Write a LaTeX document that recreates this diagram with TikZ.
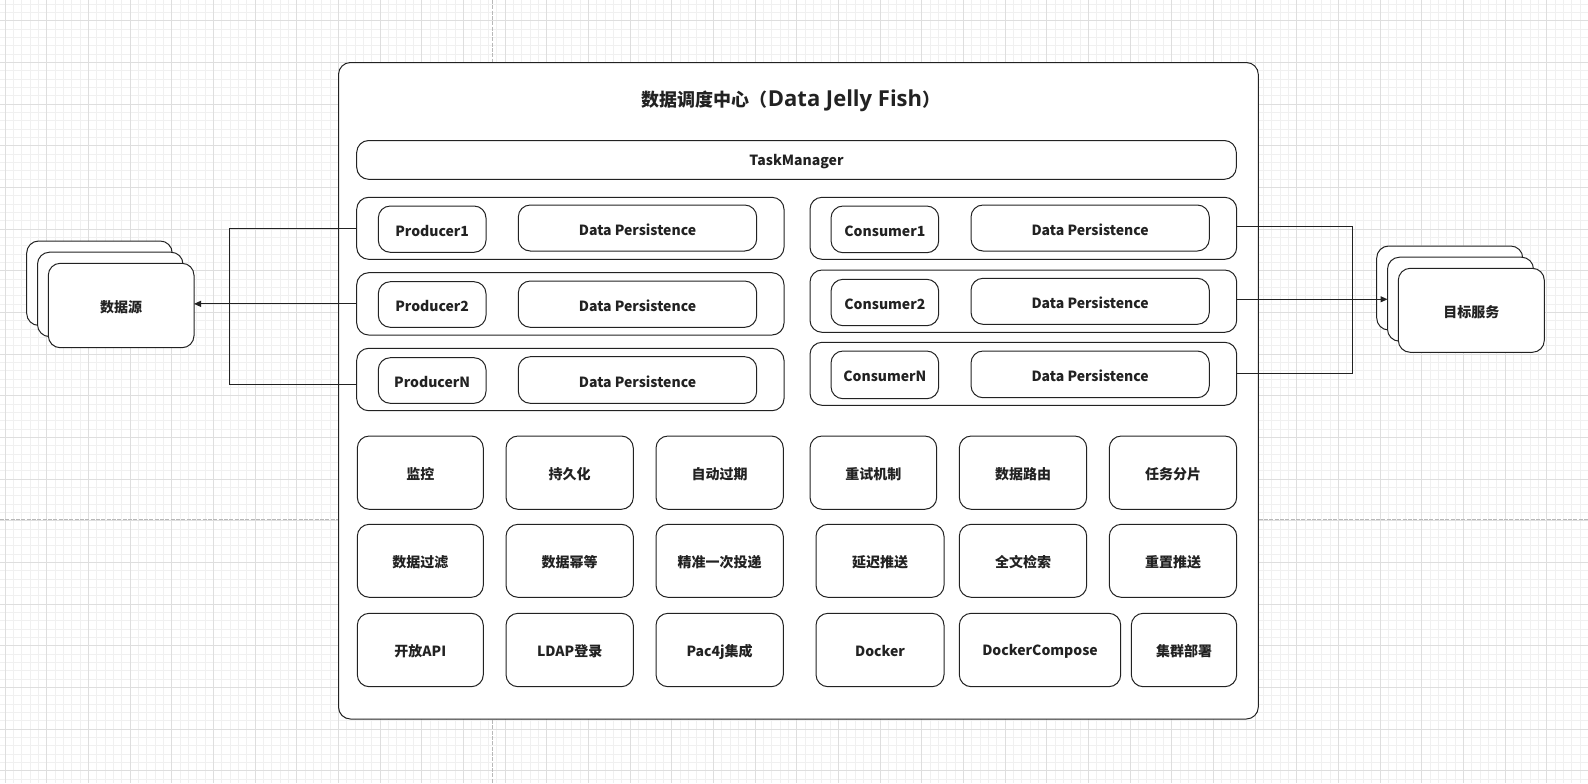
\documentclass[tikz,border=0pt]{standalone}
\usepackage{fontspec}
\setmainfont{Noto Sans CJK SC}
\newfontfamily\latfont{Open Sans}
\usetikzlibrary{arrows.meta}
\definecolor{minorg}{HTML}{F0F0F0}
\definecolor{majorg}{HTML}{DEDEDE}
\definecolor{pageg}{HTML}{B8B8B8}
\definecolor{ln}{HTML}{222222}
\newcommand\mkbox[7][]{\node[box,#1,minimum width={(#5-#3)*0.75pt},minimum height={(#6-#4)*0.75pt}] (#2) at ({(#3+#5)/2},{(#4+#6)/2}) {\raisebox{-1.1pt}[\height][\depth]{#7}};}
\begin{document}
\begin{tikzpicture}[x=0.75pt,y=-0.75pt,
  box/.style={draw=ln, line width=0.75pt, rounded corners=9pt, fill=white, inner sep=0pt, outer sep=0pt, text=ln, font=\bfseries\fontsize{10.5}{12}\selectfont},
  conn/.style={draw=ln, line width=0.75pt},
  arr/.style={conn, -{Triangle[length=5.25pt,width=4.5pt]}},
  minorline/.style={draw=minorg, line width=0.75pt},
  majorline/.style={draw=majorg, line width=0.75pt}]
\useasboundingbox (0,0) rectangle (1588,783);
\fill[white] (0,0) rectangle (1588,783);
% grid
\foreach \i in {0,...,190} \draw[minorline] ({5.2+\i*8.3333},0) -- ({5.2+\i*8.3333},783);
\foreach \i in {0,...,94} \draw[minorline] (0,{4.1+\i*8.3333}) -- (1588,{4.1+\i*8.3333});
\foreach \i in {0,...,38} \draw[majorline] ({5.2+\i*41.6667},0) -- ({5.2+\i*41.6667},783);
\foreach \i in {0,...,18} \draw[majorline] (0,{20.8+\i*41.6667}) -- (1588,{20.8+\i*41.6667});
\draw[pageg, line width=0.75pt, dash pattern=on 3pt off 1pt] (492.3,0) -- (492.3,783);
\draw[pageg, line width=0.75pt, dash pattern=on 3pt off 1pt] (0,519) -- (1588,519);

% main container
\mkbox{main}{338.5}{62.5}{1258.3}{719}{}
\node[text=ln, font=\bfseries\fontsize{13.5}{15}\selectfont] (title) at (791,101) {数据调度中心（{\latfont\bfseries\fontsize{16.5}{17}\selectfont Data Jelly Fish}）};
\mkbox{tm}{356.7}{140.5}{1236.3}{179.3}{TaskManager}

% producers
\mkbox{prow1}{356.7}{197.3}{784}{259.3}{}
\mkbox{prow2}{356.7}{272.7}{784}{335}{}
\mkbox{prow3}{356.7}{348.3}{784}{410.7}{}
\mkbox{p1}{378.3}{206}{486}{252.3}{Producer1}
\mkbox{p2}{378.3}{281.7}{486}{327.3}{Producer2}
\mkbox{p3}{378.3}{357.7}{486}{403.3}{ProducerN}
\mkbox{pd1}{518.3}{205}{756.7}{251}{Data Persistence}
\mkbox{pd2}{518.3}{281}{756.7}{327.3}{Data Persistence}
\mkbox{pd3}{518.3}{356.7}{756.7}{403.3}{Data Persistence}

% consumers
\mkbox{crow1}{810}{197.3}{1236.7}{259.3}{}
\mkbox{crow2}{810}{270}{1236.7}{332.3}{}
\mkbox{crow3}{810}{342.3}{1236.7}{405.3}{}
\mkbox{c1}{831}{206}{938.7}{252.7}{Consumer1}
\mkbox{c2}{831}{279.3}{938.7}{325.7}{Consumer2}
\mkbox{c3}{831}{351}{938.7}{398.7}{ConsumerN}
\mkbox{cd1}{971}{205}{1209.3}{251}{Data Persistence}
\mkbox{cd2}{971}{278.3}{1209.3}{324.3}{Data Persistence}
\mkbox{cd3}{971}{351}{1209.3}{397.7}{Data Persistence}

% feature grid
\mkbox{f11}{357.3}{436}{483.3}{509.3}{监控}
\mkbox{f12}{506}{436}{633.3}{509.3}{持久化}
\mkbox{f13}{656}{436}{783.3}{509.3}{自动过期}
\mkbox{f14}{810}{436}{936.7}{509.3}{重试机制}
\mkbox{f15}{959.3}{436}{1086.7}{509.3}{数据路由}
\mkbox{f16}{1109.3}{436}{1236.7}{509.3}{任务分片}
\mkbox{f21}{357.3}{524.3}{483.3}{597.3}{数据过滤}
\mkbox{f22}{506}{524.3}{633.3}{597.3}{数据幂等}
\mkbox{f23}{656}{524.3}{783.3}{597.3}{精准一次投递}
\mkbox{f24}{816}{524.3}{944}{597.3}{延迟推送}
\mkbox{f25}{959.3}{524.3}{1086.7}{597.3}{全文检索}
\mkbox{f26}{1109.3}{524.3}{1236.7}{597.3}{重置推送}
\mkbox{f31}{357.3}{613.3}{483.3}{686.7}{开放API}
\mkbox{f32}{506}{613.3}{633.3}{686.7}{LDAP登录}
\mkbox{f33}{656}{613.3}{783.3}{686.7}{Pac4j集成}
\mkbox{f34}{816}{613.3}{944}{686.7}{Docker}
\mkbox{f35}{959.3}{613.3}{1120.7}{686.7}{DockerCompose}
\mkbox{f36}{1131.3}{613.3}{1236.7}{686.7}{集群部署}

% data source stack
\mkbox{ds3}{26.7}{241}{172.2}{325.4}{}
\mkbox{ds2}{37.5}{252.2}{183}{336.6}{}
\mkbox{ds}{48.3}{263.3}{194}{347.7}{数据源}
% target stack
\mkbox{ts3}{1376.7}{246}{1522.7}{330}{}
\mkbox{ts2}{1387.5}{257.2}{1533.5}{341.2}{}
\mkbox{ts}{1398.3}{268.3}{1544.3}{352.3}{目标服务}

% connectors left
\coordinate (jl) at (229.3,304);
\draw[conn] (prow1.west) -- (prow1.west -| jl) -- ([yshift=-3.4pt]prow3.west -| jl) -- ([yshift=-3.4pt]prow3.west);
\draw[arr] (prow2.west) -- (prow2.west -| ds.east);
% connectors right
\coordinate (jr) at (1352.3,300);
\draw[conn] ([yshift=1.2pt]crow1.east) -- ([yshift=1.2pt]crow1.east -| jr) -- (crow3.east -| jr) -- (crow3.east);
\draw[arr] ([yshift=1.4pt]crow2.east) -- ([yshift=1.4pt]crow2.east -| ts2.west);
\end{tikzpicture}
\end{document}
